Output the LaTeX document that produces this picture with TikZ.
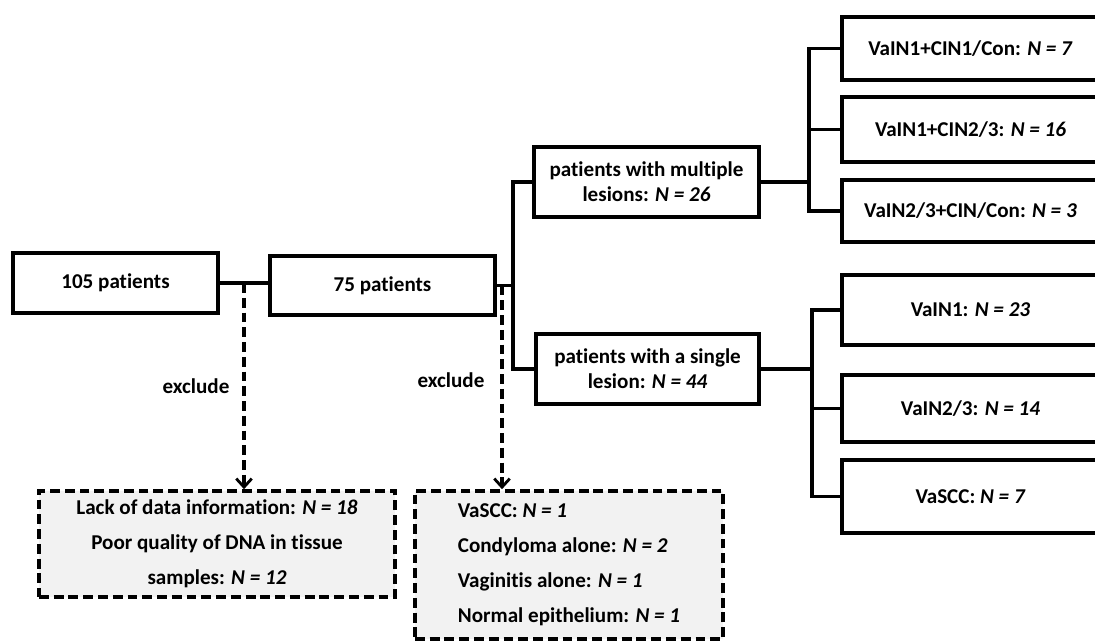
\documentclass[tikz,border=0pt]{standalone}
\usepackage{fontspec}
\setmainfont{Carlito}[Ligatures=NoCommon]
\usetikzlibrary{arrows.meta}

\begin{document}
\begin{tikzpicture}[x=0.025cm,y=-0.025cm,line join=miter,
		font=\fontsize{15}{18}\selectfont\bfseries,
		box/.style={draw,line width=3pt,fill=white,inner sep=0pt,align=center},
		rbox/.style={box,minimum width=6.425cm},
		exbox/.style={draw,line width=2.6pt,dash pattern=on 7pt off 3.5pt,fill=black!5,inner sep=0pt},
		link/.style={line width=2.7pt},
		exline/.style={line width=2.6pt,dash pattern=on 7pt off 3.5pt,-{Straight Barb[length=6pt,width=11pt,line width=2pt]}}]
		\useasboundingbox (0,0) rectangle (1095,642);
		\clip (0,0) rectangle (1095,642);
		% main chain
		\node[box,minimum width=5.125cm,minimum height=1.5cm] (p105) at (115.5,283) {105 patients};
		\node[box,minimum width=5.625cm,minimum height=1.475cm] (p75) at (382.5,285.5) {75 patients};
		\node[box,minimum width=5.625cm,minimum height=1.75cm] (mult) at (646.5,182) {patients with multiple\\lesions: \textit{N = 26}};
		\node[box,minimum width=5.575cm,minimum height=1.75cm] (single) at (647.5,369) {patients with a single\\lesion: \textit{N = 44}};
		% subgroups
		\node[rbox,minimum height=1.575cm] (ga) at (970.5,48.5) {VaIN1+CIN1/Con: \textit{N = 7}};
		\node[rbox,minimum height=1.625cm] (gb) at (970.5,129.5) {VaIN1+CIN2/3: \textit{N = 16}};
		\node[rbox,minimum height=1.55cm] (gc) at (970.5,211) {VaIN2/3+CIN/Con: \textit{N = 3}};
		\node[rbox,minimum height=1.75cm] (gd) at (970.5,310) {VaIN1: \textit{N = 23}};
		\node[rbox,minimum height=1.675cm] (ge) at (970.5,408.5) {VaIN2/3: \textit{N = 14}};
		\node[rbox,minimum height=1.825cm] (gf) at (970.5,496.5) {VaSCC: \textit{N = 7}};
		% excluded
		\node[exbox,minimum width=8.9cm,minimum height=2.65cm,align=center] (ex1) at (217,544)
			{Lack of data information: \textit{N = 18}\\[7pt]Poor quality of DNA in tissue\\[7pt]samples: \textit{N = 12}};
		\node[exbox,minimum width=7.7cm,minimum height=3.7cm,align=left] (ex2) at (569,565)
			{VaSCC: \textit{N = 1}\\[7pt]Condyloma alone: \textit{N = 2}\\[7pt]Vaginitis alone: \textit{N = 1}\\[7pt]Normal epithelium: \textit{N = 1}};
		% connectors
		\draw[link] (p105.east) -- (p105.east -| p75.west);
		\coordinate (j1) at (244,283);
		\draw[exline] (j1) -- (j1 |- ex1.north);
		\node (x1) at (196,386) {exclude};
		\coordinate (t1) at (513,285.5);
		\draw[link] (p75.east) -- (t1);
		\coordinate (j2) at (502,285.5);
		\draw[exline] (j2) -- (j2 |- ex2.north);
		\node (x2) at (451,380) {exclude};
		\draw[link] (mult.west) -| (t1 |- single.west) -- (single.west);
		\coordinate (t2) at (809,182);
		\draw[link] (mult.east) -- (t2);
		\draw[link] (ga.west) -| (t2 |- gc.west) -- (gc.west);
		\draw[link] (t2 |- gb.west) -- (gb.west);
		\coordinate (t3) at (812,369);
		\draw[link] (single.east) -- (t3);
		\draw[link] (gd.west) -| (t3 |- gf.west) -- (gf.west);
		\draw[link] (t3 |- ge.west) -- (ge.west);
\end{tikzpicture}
\end{document}
